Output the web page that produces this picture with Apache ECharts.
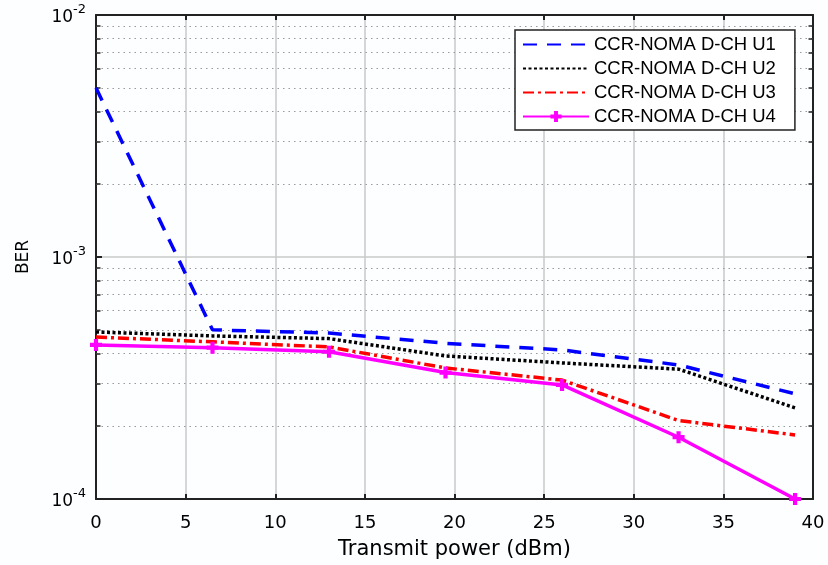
<!DOCTYPE html>
<html>
<head>
<meta charset="utf-8">
<script src="https://cdn.jsdelivr.net/npm/echarts@6/dist/echarts.min.js"></script>
<style>
  html, body { margin: 0; padding: 0; background: #fcfeff; }
  #chart { width: 828px; height: 565px; }
</style>
</head>
<body>
<div id="chart"></div>
<script>
// Transmit power (dBm) sample points
const power = [0, 6.5, 13, 19.5, 26, 32.5, 39];
// BER per user
const berU1 = [5.0e-3, 5.0e-4, 4.85e-4, 4.4e-4, 4.13e-4, 3.58e-4, 2.72e-4];
const berU2 = [4.9e-4, 4.72e-4, 4.6e-4, 3.9e-4, 3.65e-4, 3.44e-4, 2.38e-4];
const berU3 = [4.67e-4, 4.46e-4, 4.25e-4, 3.48e-4, 3.1e-4, 2.11e-4, 1.84e-4];
const berU4 = [4.33e-4, 4.22e-4, 4.06e-4, 3.33e-4, 2.96e-4, 1.8e-4, 1.0e-4];
const seriesNames = ['CCR-NOMA D-CH U1', 'CCR-NOMA D-CH U2', 'CCR-NOMA D-CH U3', 'CCR-NOMA D-CH U4'];
const yDecades = [1e-4, 1e-3, 1e-2];

const sans = "'DejaVu Sans', 'Liberation Sans', sans-serif";
const legendFont = "'Liberation Sans', Arial, sans-serif";

const pairs = (ys) => power.map((x, i) => [x, ys[i]]);

// minor log gridlines (2..9 within each decade) plus short inside ticks on both y sides
const minorVals = [];
for (let d = 0; d < yDecades.length - 1; d++) {
  for (let k = 2; k <= 9; k++) minorVals.push(+(k * yDecades[d]).toPrecision(3));
}
const minorLines = minorVals.map(v => [{ coord: [0, v] }, { coord: [40, v] }]);
const minorTicks = [];
minorVals.forEach(v => {
  minorTicks.push([{ coord: [0, v] }, { coord: [0.25, v] }]);
  minorTicks.push([{ coord: [39.75, v] }, { coord: [40, v] }]);
});

// thick plus marker
const plusPath = 'path://M3.25,0 L6.75,0 L6.75,3.25 L10,3.25 L10,6.75 L6.75,6.75 L6.75,10 L3.25,10 L3.25,6.75 L0,6.75 L0,3.25 L3.25,3.25 Z';

const chart = echarts.init(document.getElementById('chart'), null, { renderer: 'canvas' });
chart.setOption({
  backgroundColor: '#fcfeff',
  animation: false,
  grid: { left: 96, right: 15, top: 15, bottom: 66, show: false },
  legend: {
    orient: 'vertical',
    left: 515,
    top: 30,
    itemWidth: 66,
    itemHeight: 14,
    itemGap: 5,
    padding: [5, 19, 4, 7],
    backgroundColor: '#ffffff',
    borderColor: '#222',
    borderWidth: 1.5,
    borderRadius: 0,
    textStyle: { fontFamily: legendFont, fontSize: 18.5, color: '#000' },
    data: [
      { name: seriesNames[0], itemStyle: { opacity: 0 } },
      { name: seriesNames[1], itemStyle: { opacity: 0 } },
      { name: seriesNames[2], itemStyle: { opacity: 0 } },
      { name: seriesNames[3] }
    ]
  },
  xAxis: [
    {
      type: 'value', min: 0, max: 40, interval: 5,
      axisLine: { show: true, onZero: false, lineStyle: { color: '#222', width: 2 } },
      axisTick: { show: true, inside: true, length: 5, lineStyle: { color: '#222', width: 2 } },
      axisLabel: { color: '#000', fontFamily: sans, fontSize: 18, margin: 15 },
      splitLine: { show: true, lineStyle: { color: '#c8c8c8', width: 1.5 } },
      name: 'Transmit power (dBm)',
      nameLocation: 'middle',
      nameGap: 40,
      nameTextStyle: { color: '#000', fontFamily: sans, fontSize: 21 }
    },
    {
      type: 'value', min: 0, max: 40, interval: 5, position: 'top',
      axisLine: { show: true, onZero: false, lineStyle: { color: '#222', width: 2 } },
      axisTick: { show: true, inside: true, length: 5, lineStyle: { color: '#222', width: 2 } },
      axisLabel: { show: false },
      splitLine: { show: false }
    }
  ],
  yAxis: [
    {
      type: 'log', logBase: 10, min: 1e-4, max: 1e-2,
      axisLine: { show: true, onZero: false, lineStyle: { color: '#222', width: 2 } },
      axisTick: { show: true, inside: true, length: 6, lineStyle: { color: '#222', width: 2 } },
      splitLine: { show: true, lineStyle: { color: '#c8c8c8', width: 1.5 } },
      axisLabel: {
        margin: 10,
        formatter: (v) => '{b|10}{s|' + Math.round(Math.log10(v)) + '}',
        rich: {
          b: { fontFamily: sans, fontSize: 17, color: '#000', verticalAlign: 'bottom' },
          s: { fontFamily: sans, fontSize: 13, color: '#000', verticalAlign: 'top', padding: [0, 0, 10, 0] }
        }
      },
      name: 'BER',
      nameLocation: 'middle',
      nameGap: 64,
      nameTextStyle: { color: '#000', fontFamily: sans, fontSize: 17 }
    },
    {
      type: 'log', logBase: 10, min: 1e-4, max: 1e-2, position: 'right',
      axisLine: { show: true, onZero: false, lineStyle: { color: '#222', width: 2 } },
      axisTick: { show: true, inside: true, length: 6, lineStyle: { color: '#222', width: 2 } },
      axisLabel: { show: false },
      splitLine: { show: false }
    }
  ],
  series: [
    {
      name: seriesNames[0], type: 'line', data: pairs(berU1),
      symbol: 'none', color: '#0000ff', z: 5,
      lineStyle: { color: '#0000ff', width: 3.5, type: [14, 10] },
      markLine: {
        silent: true, symbol: 'none', animation: false, z: 1,
        label: { show: false },
        lineStyle: { color: '#9a9a9a', width: 1.2, type: [1.5, 4] },
        data: minorLines
      }
    },
    {
      name: seriesNames[1], type: 'line', data: pairs(berU2),
      symbol: 'none', color: '#000000', z: 4,
      lineStyle: { color: '#000000', width: 3.5, type: [3, 2.5] },
      markLine: {
        silent: true, symbol: 'none', animation: false,
        label: { show: false },
        lineStyle: { color: '#222', width: 1.5, type: 'solid' },
        data: minorTicks
      }
    },
    {
      name: seriesNames[2], type: 'line', data: pairs(berU3),
      symbol: 'none', color: '#ff0000', z: 3,
      lineStyle: { color: '#ff0000', width: 3.5, type: [11, 4, 3, 4] }
    },
    {
      name: seriesNames[3], type: 'line', data: pairs(berU4),
      symbol: plusPath, symbolSize: 12, showSymbol: true, color: '#ff00ff', z: 6,
      itemStyle: { color: '#ff00ff' },
      lineStyle: { color: '#ff00ff', width: 3.5, type: 'solid' }
    }
  ]
});
</script>
</body>
</html>
